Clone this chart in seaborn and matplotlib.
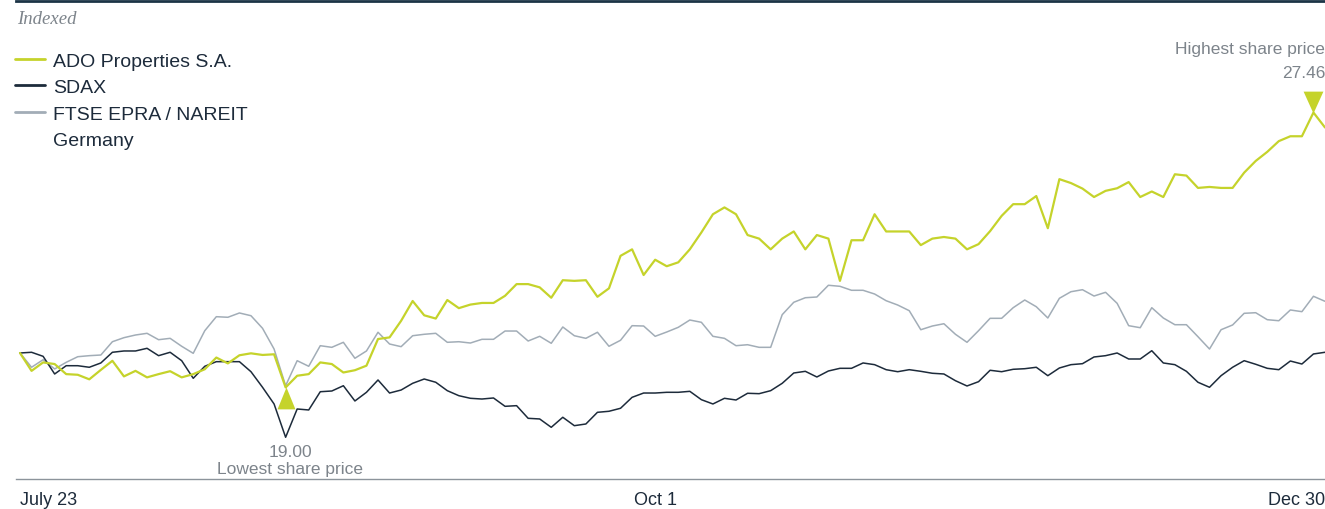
import numpy as np
import pandas as pd
import matplotlib
matplotlib.use("Agg")
import matplotlib.pyplot as plt
import seaborn as sns
from matplotlib.path import Path
from matplotlib.lines import Line2D

# ---------------- data ----------------
series_names = ["ADO Properties S.A.", "SDAX", "FTSE EPRA / NAREIT"]
legend_extra = "Germany"
x_tick_labels = ["July 23", "Oct 1", "Dec 30"]
x_tick_index = [0, 55, 113]

# ADO share price in EUR (trading days)
ado_price = [
    20.06, 19.51, 19.77, 19.72, 19.41, 19.39, 19.25, 19.54, 19.82, 19.34,
    19.51, 19.31, 19.41, 19.50, 19.31, 19.41, 19.56, 19.92, 19.74, 19.99,
    20.05, 20.00, 20.02, 19.00, 19.36, 19.41, 19.77, 19.72, 19.46, 19.53,
    19.67, 20.49, 20.54, 21.05, 21.66, 21.22, 21.12, 21.69, 21.44, 21.55,
    21.60, 21.60, 21.82, 22.18, 22.18, 22.08, 21.76, 22.30, 22.28, 22.30,
    21.79, 22.05, 23.05, 23.25, 22.46, 22.93, 22.73, 22.85, 23.25, 23.77,
    24.33, 24.54, 24.33, 23.69, 23.58, 23.25, 23.58, 23.80, 23.25, 23.69,
    23.58, 22.28, 23.53, 23.53, 24.33, 23.80, 23.80, 23.80, 23.38, 23.58,
    23.63, 23.58, 23.25, 23.41, 23.81, 24.28, 24.64, 24.64, 24.89, 23.90,
    25.41, 25.29, 25.12, 24.86, 25.05, 25.13, 25.32, 24.86, 25.03, 24.86,
    25.56, 25.52, 25.14, 25.17, 25.14, 25.14, 25.61, 25.97, 26.25, 26.58,
    26.73, 26.73, 27.46, 27.00,
]

# SDAX, indexed (start = 100)
sdax_index = [
    100.00, 100.11, 99.49, 96.78, 98.05, 98.05, 97.81, 98.47, 100.11, 100.31,
    100.31, 100.72, 99.59, 100.11, 98.82, 96.12, 97.96, 98.67, 98.67, 98.67,
    97.13, 94.74, 92.18, 87.07, 91.41, 91.26, 94.06, 94.17, 94.98, 92.64,
    93.97, 95.86, 93.86, 94.32, 95.35, 96.01, 95.51, 94.22, 93.45, 93.05,
    92.94, 93.10, 91.82, 91.92, 89.98, 89.88, 88.60, 90.14, 88.85, 89.11,
    90.90, 91.06, 91.52, 93.20, 93.86, 93.86, 93.97, 93.97, 94.12, 92.84,
    92.18, 93.05, 92.79, 93.82, 93.76, 94.22, 95.35, 96.93, 97.19, 96.32,
    97.24, 97.65, 97.65, 98.47, 98.21, 97.44, 97.13, 97.44, 97.19, 96.89,
    96.78, 95.75, 94.94, 95.60, 97.35, 97.13, 97.50, 97.59, 97.81, 96.52,
    97.70, 98.21, 98.36, 99.39, 99.59, 100.00, 99.08, 99.08, 100.35, 98.47,
    98.21, 97.19, 95.51, 94.74, 96.52, 97.81, 98.82, 98.27, 97.65, 97.44,
    98.77, 98.31, 99.85, 100.11,
]

# FTSE EPRA / NAREIT Germany, indexed (start = 100)
ftse_index = [
    100.00, 97.81, 98.97, 97.55, 98.57, 99.43, 99.59, 99.69, 101.73, 102.35,
    102.76, 103.02, 102.04, 102.25, 101.03, 99.95, 103.42, 105.57, 105.48, 106.14,
    105.72, 103.79, 100.61, 94.98, 98.82, 97.96, 101.12, 100.87, 101.64, 99.19,
    100.31, 103.18, 101.38, 100.97, 102.65, 102.87, 103.02, 101.64, 101.73, 101.53,
    102.10, 102.10, 103.37, 103.37, 101.84, 102.56, 101.49, 103.99, 102.65, 102.25,
    103.18, 101.03, 101.95, 104.19, 104.14, 102.56, 103.22, 103.94, 105.06, 104.71,
    102.56, 102.25, 101.12, 101.27, 100.87, 100.87, 105.88, 107.78, 108.48, 108.59,
    110.39, 110.23, 109.62, 109.62, 109.05, 108.02, 107.36, 106.49, 103.57, 104.14,
    104.49, 102.87, 101.64, 103.42, 105.32, 105.32, 106.95, 108.13, 107.10, 105.37,
    108.39, 109.40, 109.71, 108.74, 109.31, 107.62, 104.19, 103.88, 106.95, 105.37,
    104.34, 104.34, 102.50, 100.61, 103.57, 104.30, 106.09, 106.18, 105.11, 104.95,
    106.60, 106.34, 108.70, 107.93,
]

# ---------------- styling ----------------
sns.set_theme(style="white")
plt.rcParams["font.family"] = ["Liberation Sans", "DejaVu Sans"]

C_ADO = "#c5d32b"
C_SDAX = "#1d2b3b"
C_FTSE = "#a2adb7"
C_GRAY_TXT = "#7d848b"
C_TOP = "#1c3446"
C_AXIS = "#8c949b"

ado = np.array(ado_price)
ado_idx = ado / ado[0] * 100.0
day = np.arange(len(ado))

df = pd.DataFrame({
    "day": np.concatenate([day, day, day]),
    "value": np.concatenate([ado_idx, np.array(sdax_index), np.array(ftse_index)]),
    "series": np.repeat(series_names, len(day)),
})

W, H = 1325, 510
fig = plt.figure(figsize=(W / 100, H / 100), dpi=100)
ax = fig.add_axes([16 / W, 1 - 480 / H, 1 - 16 / W, (480 - 2) / H])

for name, color, lw, z in [(series_names[2], C_FTSE, 1.1, 2),
                           (series_names[1], C_SDAX, 1.1, 3),
                           (series_names[0], C_ADO, 1.6, 4)]:
    sns.lineplot(data=df[df["series"] == name], x="day", y="value",
                 color=color, linewidth=lw, ax=ax, zorder=z, label=name,
                 legend=False)

ax.set_xlim(-4 / 11.549, len(day) - 1)
ax.set_ylim(80.67, 154.0)
ax.set_xlabel("")
ax.set_ylabel("")
ax.set_yticks([])

# spines
for s in ["left", "right"]:
    ax.spines[s].set_visible(False)
ax.spines["top"].set_color(C_TOP)
ax.spines["top"].set_linewidth(2.0)
ax.spines["bottom"].set_color(C_AXIS)
ax.spines["bottom"].set_linewidth(1.0)

# x tick labels
ax.set_xticks(x_tick_index)
ax.set_xticklabels(x_tick_labels, fontsize=13, color=C_SDAX)
ax.tick_params(axis="x", length=0, pad=9)
tl = ax.get_xticklabels()
tl[0].set_ha("left")
tl[-1].set_ha("right")

# min / max markers
i_min = int(np.argmin(ado))
i_max = int(np.argmax(ado))
up_tri = Path([(0, 0), (-0.41, -1), (0.41, -1), (0, 0)],
              [Path.MOVETO, Path.LINETO, Path.LINETO, Path.CLOSEPOLY])
down_tri = Path([(0, 0), (-0.43, 0.95), (0.43, 0.95), (0, 0)],
                [Path.MOVETO, Path.LINETO, Path.LINETO, Path.CLOSEPOLY])
ax.plot([day[i_min]], [ado_idx[i_min]], marker=up_tri, markersize=31.5,
        color=C_ADO, markeredgewidth=0, linestyle="none", zorder=5, clip_on=False)
ax.plot([day[i_max]], [ado_idx[i_max]], marker=down_tri, markersize=31.5,
        color=C_ADO, markeredgewidth=0, linestyle="none", zorder=5, clip_on=False)

ann_fs = 12.5
ax.annotate(f"{ado[i_min]:.2f}", (day[i_min], ado_idx[i_min]),
            xytext=(3.6, -45.8), textcoords="offset points",
            ha="center", va="center", fontsize=ann_fs, color=C_GRAY_TXT,
            annotation_clip=False)
ax.annotate("Lowest share price", (day[i_min], ado_idx[i_min]),
            xytext=(3.0, -58.6), textcoords="offset points",
            ha="center", va="center", fontsize=ann_fs, color=C_GRAY_TXT,
            annotation_clip=False)
ax.annotate(f"{ado[i_max]:.2f}", (day[i_max], ado_idx[i_max]),
            xytext=(8.4, 29.0), textcoords="offset points",
            ha="right", va="center", fontsize=ann_fs, color=C_GRAY_TXT,
            annotation_clip=False)
ax.annotate("Highest share price", (day[i_max], ado_idx[i_max]),
            xytext=(8.4, 46.3), textcoords="offset points",
            ha="right", va="center", fontsize=ann_fs, color=C_GRAY_TXT,
            annotation_clip=False)

# "Indexed" caption
fig.text(17 / W, 1 - 19 / H, "Indexed", family=["Liberation Serif", "DejaVu Serif"],
         style="italic", fontsize=13.5, color=C_GRAY_TXT, ha="left", va="center")

# legend
lines = ax.get_lines()
by_label = {l.get_label(): l for l in lines}
blank = Line2D([], [], linewidth=0, color="none")
handles = [by_label[series_names[0]], by_label[series_names[1]], by_label[series_names[2]],
           blank]
labels = [series_names[0], series_names[1], series_names[2], legend_extra]
leg = fig.legend(handles, labels, loc="upper left",
                 bbox_to_anchor=(15 / W, 1 - 53 / H), frameon=False,
                 fontsize=14, handlelength=1.55, handletextpad=0.4,
                 borderpad=0, borderaxespad=0, labelspacing=0.46)
for t in leg.get_texts():
    t.set_color(C_SDAX)
leg_lines = leg.get_lines()
for lh in leg_lines[:3]:
    lh.set_linewidth(2.0)
leg_lines[3].set_visible(False)

fig.savefig("out.png", dpi=100)
